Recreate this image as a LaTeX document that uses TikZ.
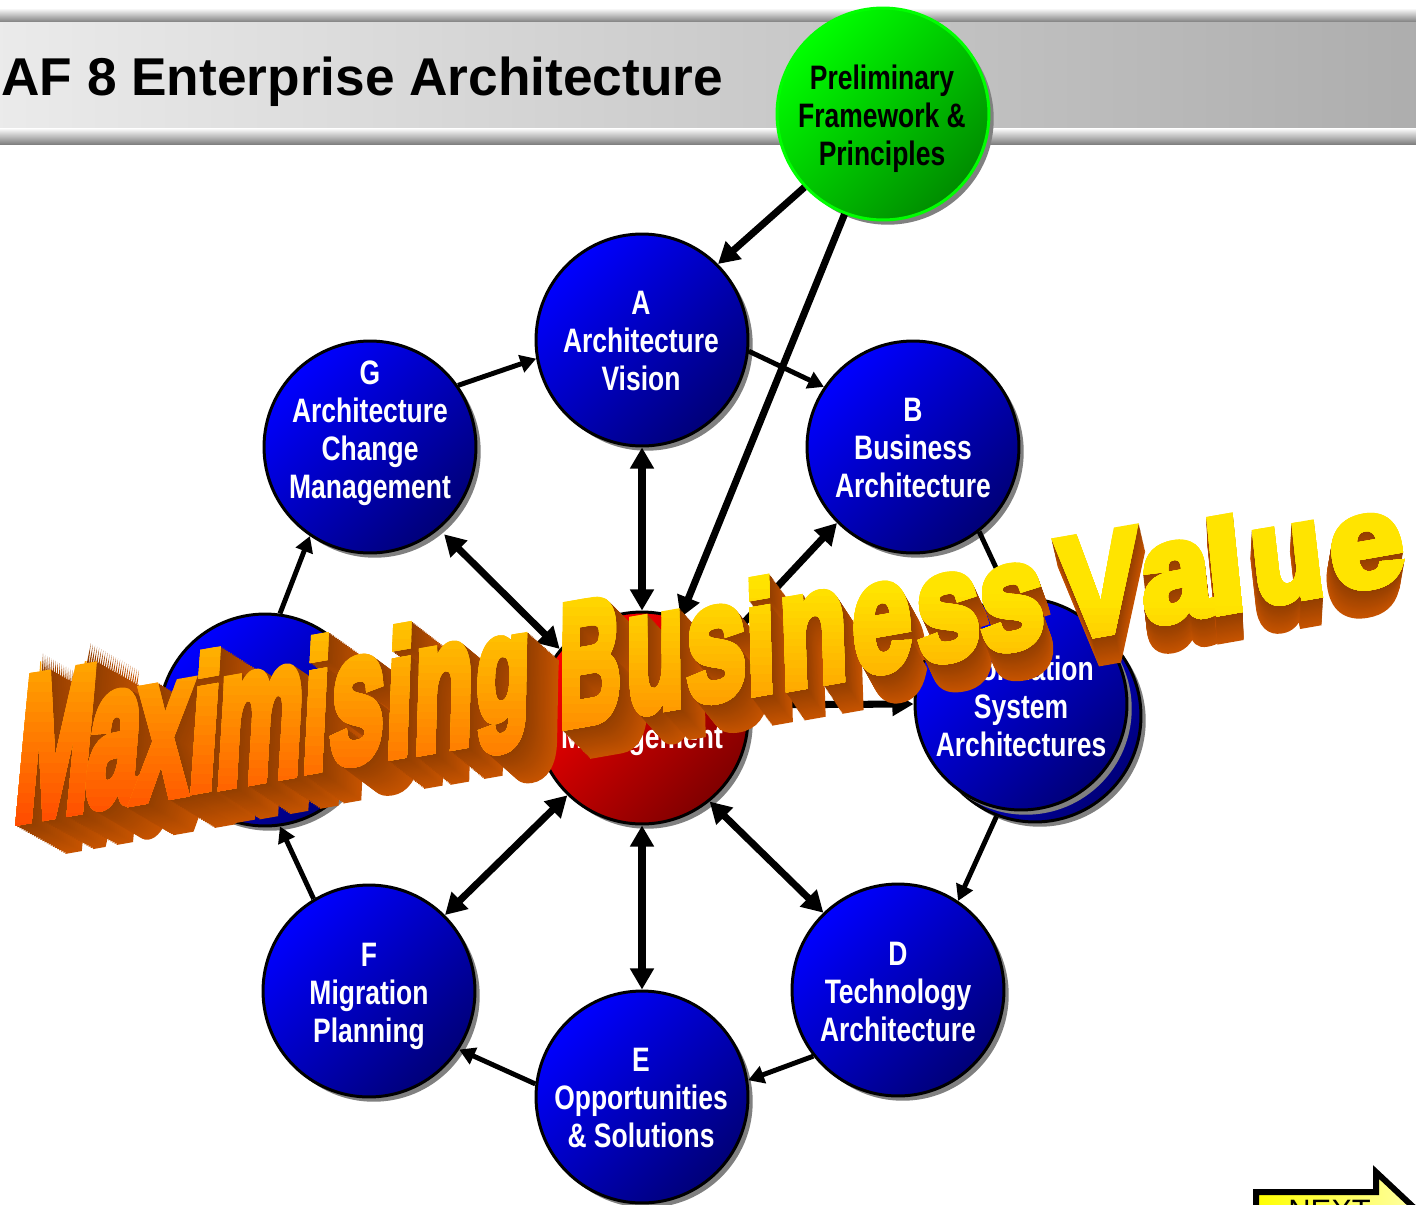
\documentclass[tikz,border=0pt]{standalone}
\usepackage{fontspec}
\usepackage{graphicx}
\usetikzlibrary{arrows.meta,shadows}
\setmainfont{Liberation Sans}
\newfontfamily\narrowfont[FakeStretch=0.78]{Liberation Sans}
\newfontfamily\artfont[BoldFeatures={FakeBold=5.5}]{Liberation Sans}
\definecolor{shadowgray}{RGB}{128,128,128}
\definecolor{blueA}{RGB}{0,0,255}
\definecolor{blueB}{RGB}{0,0,120}
\definecolor{redA}{RGB}{255,0,0}
\definecolor{redB}{RGB}{128,0,0}
\definecolor{greenA}{RGB}{0,255,0}
\definecolor{greenB}{RGB}{0,140,0}
\definecolor{sidedark}{RGB}{146,62,0}
\definecolor{sidelight}{RGB}{200,84,0}
\tikzset{
  phase/.style={circle,draw=black,line width=1.7pt,minimum size=4.24cm,inner sep=0pt,
    align=center,text=white,font=\narrowfont\bfseries\fontsize{19.3}{21.6}\selectfont,
    top color=blueA,bottom color=blueB,shading angle=45,
    drop shadow={shadow xshift=2.7pt,shadow yshift=-2.7pt,fill=shadowgray,opacity=1}},
  hub/.style={phase,top color=redA,bottom color=redB,shading angle=45},
  prelim/.style={phase,draw=greenA,top color=greenA,bottom color=greenB,shading angle=45},
  phasetext/.style={align=center,inner sep=0pt,text=white,font=\narrowfont\bfseries\fontsize{19.3}{21.6}\selectfont},
  spoke/.style={line width=4pt,{Triangle[length=12pt,width=13pt]}-{Triangle[length=12pt,width=13pt]}},
  ring/.style={line width=2.8pt,-{Triangle[length=9pt,width=10pt]}},
  feed/.style={line width=4pt,-{Triangle[length=12pt,width=13pt]}},
  letter/.style={anchor=south west,inner sep=0pt,transform shape}
}
% corners of one letter of the banner text, as a matrix on a 10pt box
\newcommand{\artsetup}[4]{%
  \pgfmathsetmacro\xm{(#1+#2)/2}%
  \pgfmathsetmacro\hh{(825-0.175*(\xm-11))-(679-0.133*(\xm-27))}%
  \pgfmathsetmacro\lean{0.1-0.2*(\xm-11)/1204}%
  \pgfmathsetmacro\ox{#1-\lean*\hh/2}%
  \pgfmathsetmacro\oy{825-0.175*(#1-11)+#4}%
  \pgfmathsetmacro\hgt{#3*\hh+#4}%
  \pgfmathsetmacro\mA{(#2-#1)*0.056693}%
  \pgfmathsetmacro\mB{(#2-#1)*0.175*0.056693}%
  \pgfmathsetmacro\mC{\lean*\hgt*0.056693}%
  \pgfmathsetmacro\mD{\hgt*0.056693}%
}
\newcommand{\artglyphs}{M/17/92/1/0,a/88/141/.8/0,x/136/190/.8/0,i/190/220/1/0,m/216/303/.8/0,i/303/329/1/0,s/330/384/.8/0,i/386/413/1/0,n/413/473/.8/0,g/475/529/.8/14,B/558/620/1/0,u/625/683/.8/0,s/685/745/.8/0,i/745/775/1/0,n/778/846/.8/0,e/851/910/.8/0,s/915/978/.8/0,s/978/1042/.8/0,V/1058/1138/1/0,a/1140/1209/.8/0,l/1205/1243/1/0,u/1250/1321/.8/0,e/1328/1401/.8/0}
\begin{document}
\begin{tikzpicture}[x=.02cm,y=-.02cm]
\path[use as bounding box,fill=white] (0,0) rectangle (1416,1204);
% title band
\shade[top color=white,bottom color=shadowgray] (0,8) rectangle (1416,22);
\shade[left color=black!8,right color=black!32] (0,22) rectangle (1416,128);
\shade[top color=white,bottom color=shadowgray] (0,128) rectangle (1416,144);
\node[anchor=base west,inner sep=0pt,font=\bfseries\fontsize{30.3}{36}\selectfont] (title) at (1,95) {AF 8 Enterprise Architecture};
% phases
\node[phase] (vision) at (642,340) {};
\node[phasetext] (visiontext) at (641,341) {A\\Architecture\\Vision};
\node[phase] (business) at (913,447) {};
\node[phasetext] (businesstext) at (913,448) {B\\Business\\Architecture};
\node[phase] (infoback) at (1035,716) {};
\node[phase] (info) at (1021,704) {};
\node[phasetext] (infotext) at (1021,706) {Information\\System\\Architectures};
\node[phase] (technology) at (898,990) {};
\node[phasetext] (technologytext) at (898,992) {D\\Technology\\Architecture};
\node[phase] (solutions) at (642,1097) {};
\node[phasetext] (solutionstext) at (641,1098) {E\\Opportunities\\\& Solutions};
\node[phase] (migration) at (369,991) {};
\node[phasetext] (migrationtext) at (369,996) {F\\Migration\\Planning};
\node[phase] (change) at (370,447) {};
\node[phasetext] (changetext) at (370,433) {G\\Architecture\\Change\\Management};
\node[phase] (governance) at (265,720) {};
\node[hub] (requirements) at (642,718) {};
\node[phasetext] (requirementstext) at (642,740) {Management};
\node[prelim] (preliminary) at (883,114) {};
\node[phasetext,text=black] (preliminarytext) at (882,119) {Preliminary\\Framework \&\\Principles};
% ring
\draw[ring] (change.35) -- (vision.190);
\draw[ring] (vision.-6) -- (business.146);
\draw[ring] (business.-52) -- (info.96);
\draw[ring] (infoback.-111) -- (technology.56);
\draw[ring] (technology.218) -- (solutions.9);
\draw[ring] (solutions.173) -- (migration.-33);
\draw[ring] (migration.121) -- (governance.-82);
\draw[ring] (governance.82) -- (change.236);
% spokes
\draw[spoke] (requirements.north) -- (vision.south);
\draw[spoke,shorten >=4pt] (requirements.140) -- (change.-50);
\draw[spoke] (requirements.42) -- (business.225);
\draw[spoke] (requirements.7) -- (info.180);
\draw[spoke] (requirements.-51) -- (technology.134);
\draw[spoke] (requirements.south) -- (solutions.north);
\draw[spoke] (requirements.226) -- (migration.45);
\draw[feed] (preliminary.223) -- (vision.45);
\draw[feed] (preliminary.249) -- (requirements.69);
% next button
\shade[left color=yellow,right color=yellow!25,draw=black,line width=3.4pt,miter limit=10]
  (1256,1230) -- (1256,1192) -- (1376,1192) -- (1376,1172) -- (1440,1232) -- cycle;
\node[anchor=base west,inner sep=0pt,font=\fontsize{17.6}{20}\selectfont] (next) at (1288,1221) {NEXT};
% banner text: sides first, faces over them
\foreach \ch/\xa/\xb/\fr/\dpt in \artglyphs {
  \artsetup{\xa}{\xb}{\fr}{\dpt}
  \foreach \kk in {24,...,1} {
    \pgfmathsetmacro\ex{\ox+\kk/24*0.042*(1250-\xm)}
    \pgfmathsetmacro\ey{\oy+\kk/24*28}
    \pgfmathtruncatemacro\pct{100-\kk*4}
    \begin{scope}[cm={\mA,\mB,\mC,\mD,(\ex,\ey)}]
      \node[letter,text=sidedark!\pct!sidelight] (side) at (0,0) {\resizebox*{10pt}{10pt}{\artfont\bfseries\ch}};
    \end{scope}
  }
}
\foreach \ch/\xa/\xb/\fr/\dpt in \artglyphs {
  \artsetup{\xa}{\xb}{\fr}{\dpt}
  \foreach \sl in {0,...,17} {
    \pgfmathsetmacro\ys{\oy-\hgt-20+\sl*(\hgt+40)/18}
    \pgfmathtruncatemacro\gr{max(60,min(228,69+0.027*(\xm-11)+0.556*(830-\ys)))}
    \definecolor{artface}{RGB}{255,\gr,0}
    \begin{scope}
      \clip (\xa-70,\ys) rectangle (\xb+70,1300);
      \begin{scope}[cm={\mA,\mB,\mC,\mD,(\ox,\oy)}]
        \node[letter,text=artface] (face) at (0,0) {\resizebox*{10pt}{10pt}{\artfont\bfseries\ch}};
      \end{scope}
    \end{scope}
  }
}
\end{tikzpicture}
\end{document}
